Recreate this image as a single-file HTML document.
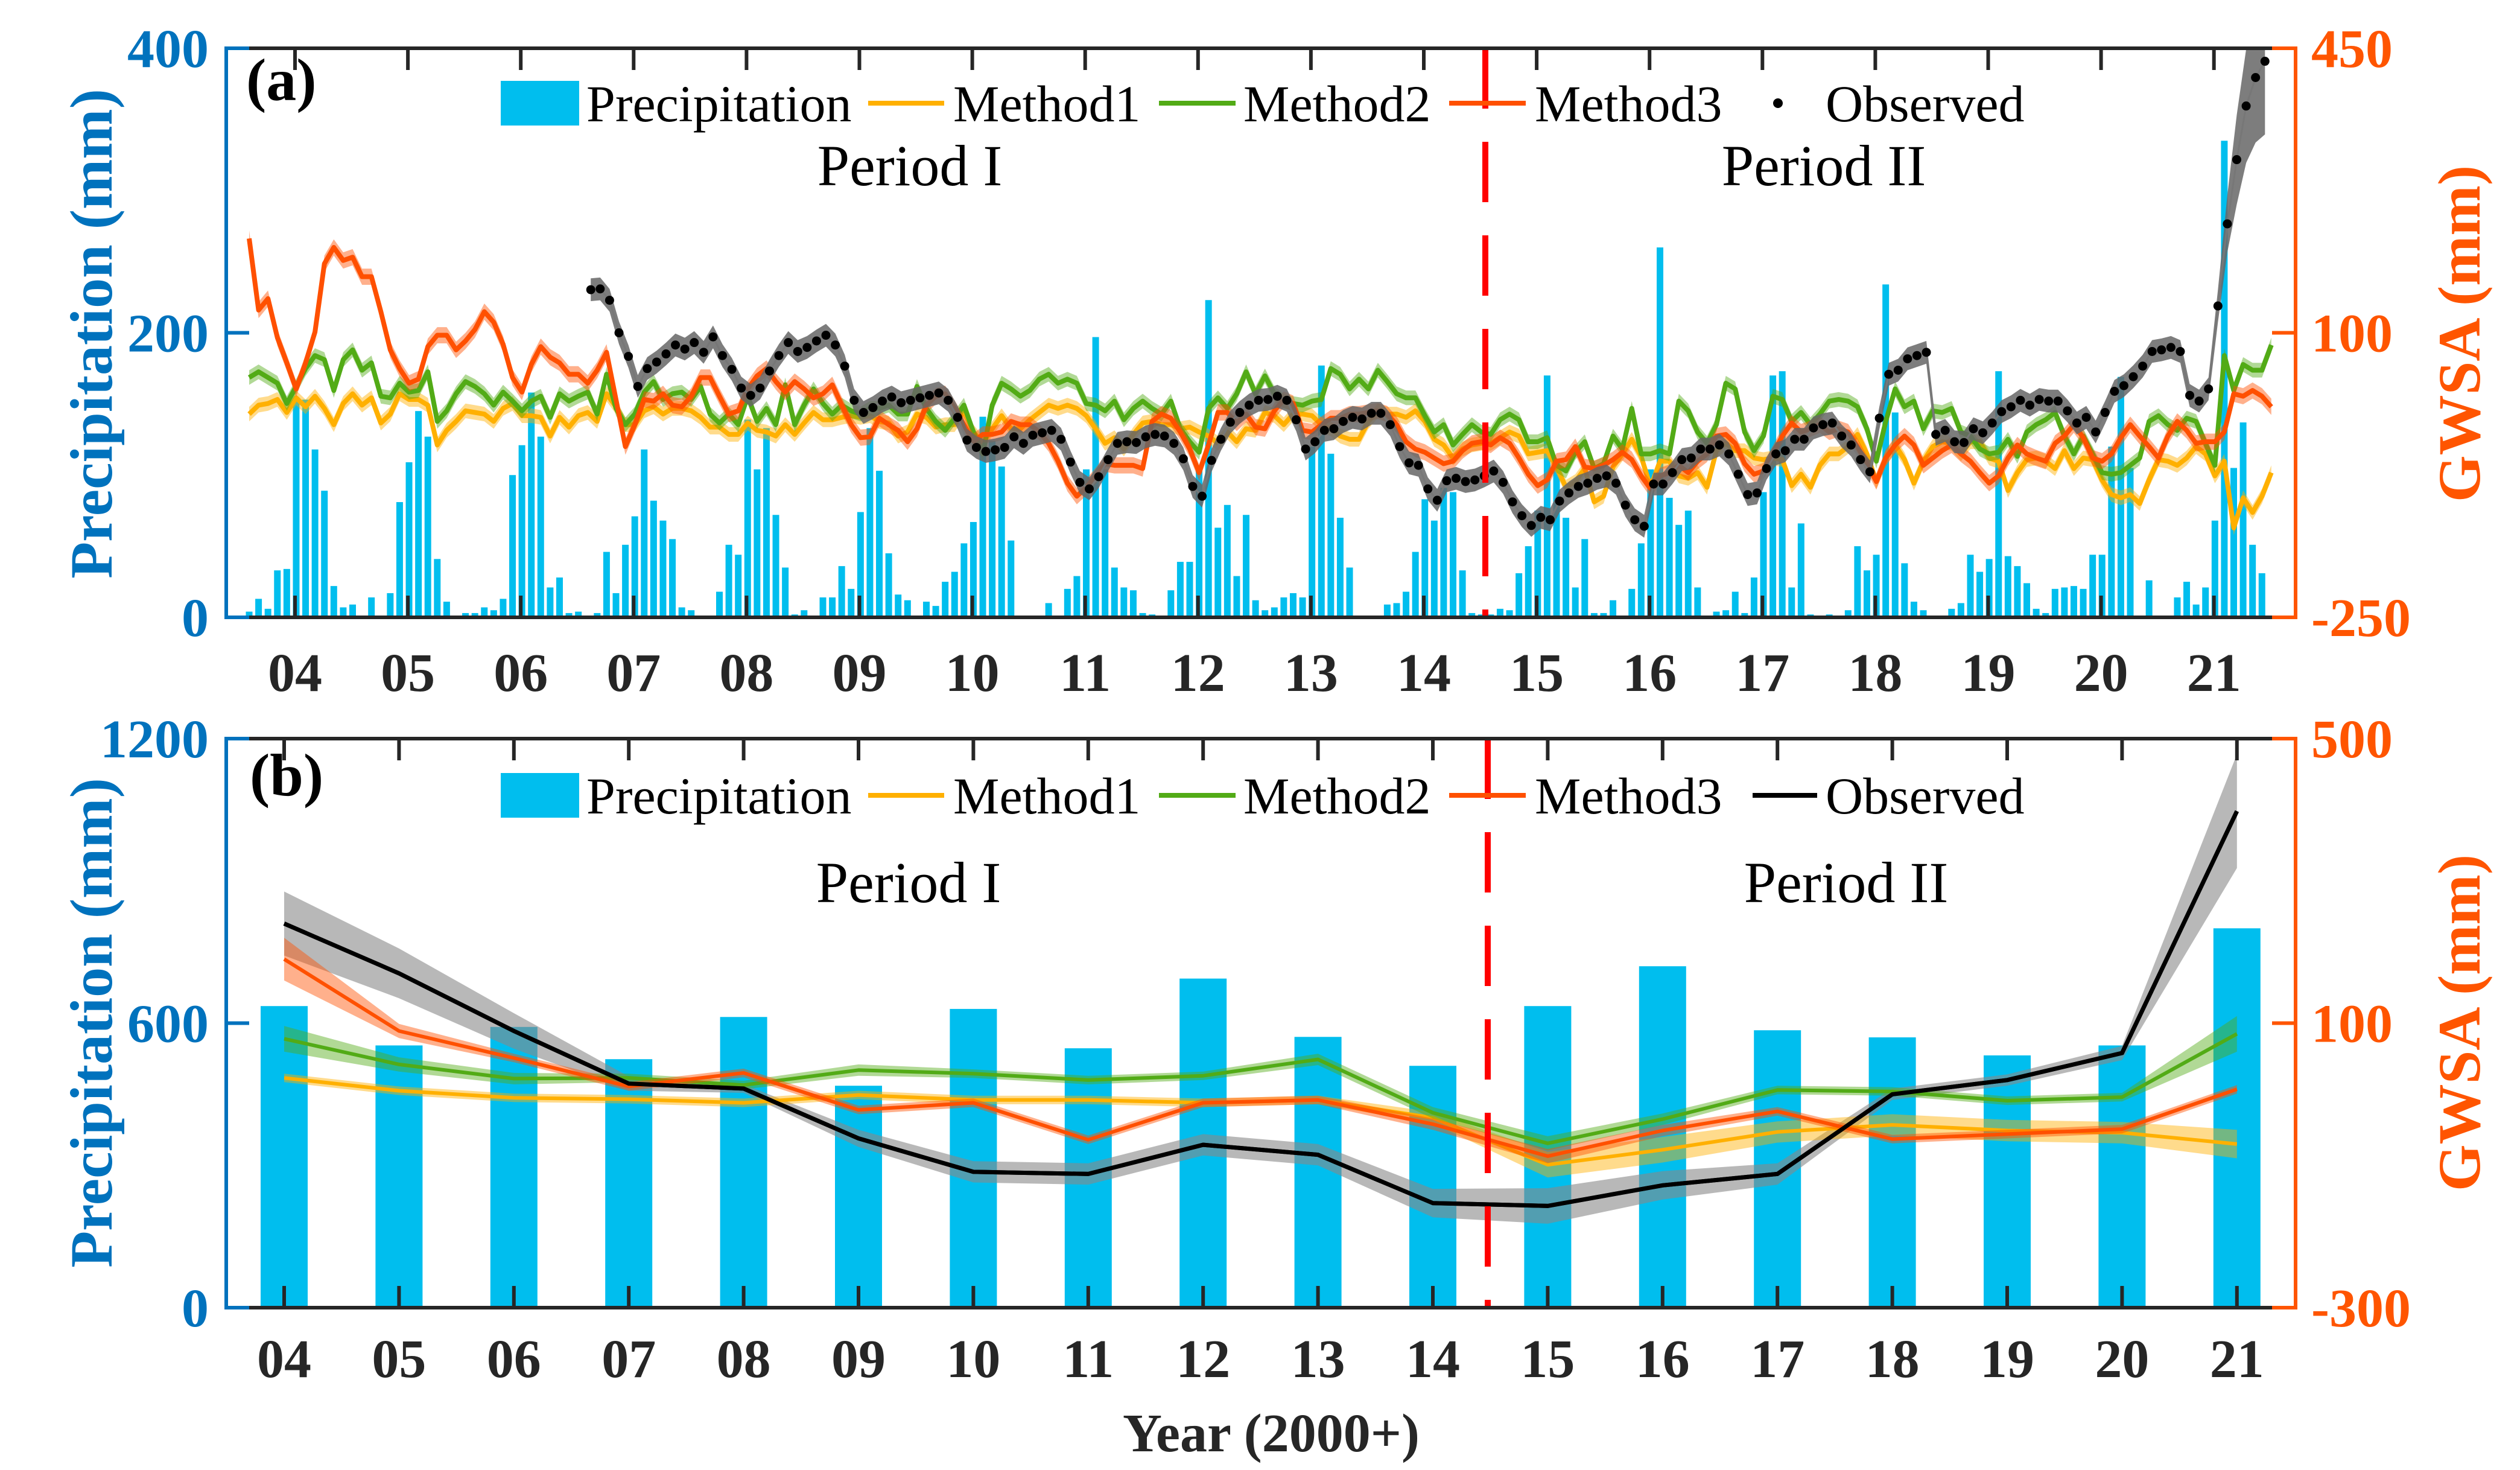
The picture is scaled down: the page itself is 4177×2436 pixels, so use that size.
<!DOCTYPE html>
<html><head><meta charset="utf-8"><style>
html,body{margin:0;padding:0;background:#fff;}
svg{display:block;font-family:"Liberation Serif","DejaVu Serif",serif;}
</style></head><body>
<svg id="chart" width="4177" height="2436" viewBox="0 0 4177 2436" xmlns="http://www.w3.org/2000/svg">
<defs>
<clipPath id="clipA"><rect x="375" y="80" width="3431" height="943"/></clipPath>
<clipPath id="clipB"><rect x="375" y="1224" width="3428" height="943"/></clipPath>
</defs>
<rect x="0" y="0" width="4177" height="2436" fill="#fff"/>
<g id="panelA"></g>
<g id="panelB"></g>
</svg>
<script>
// ---------- Panel (a) monthly data (Jan 2004 .. Dec 2021) ----------
const precipA = [
4,13,6,33,34,153,153,118,89,22,7,9,
0,14,0,17,81,109,145,127,41,11,1,3,
3,7,5,13,100,121,158,127,21,28,3,4,
0,3,46,17,51,71,118,82,68,55,7,5,
0,0,18,51,44,139,104,133,72,35,2,5,
0,14,14,36,20,74,133,103,45,16,12,0,
11,8,25,32,52,67,141,124,106,54,0,0,
0,10,0,20,29,104,197,104,35,21,19,3,
2,0,19,39,39,103,223,63,79,29,72,12,
5,7,14,17,14,120,177,115,70,35,0,0,
0,9,10,18,46,83,68,91,88,33,3,2,
2,6,5,31,50,75,170,110,70,21,55,3,
3,12,0,20,52,104,260,84,65,75,21,0,
4,5,18,3,28,88,170,173,21,66,2,0,
2,0,5,50,33,44,234,144,38,11,5,0,
0,6,10,44,32,41,173,43,36,24,6,3,
20,21,22,20,44,44,120,169,105,1,26,0,
0,14,25,9,21,68,335,105,137,51,31,1];
const method1A = [
0,11,13,18,2,20,9,22,7,-13,13,25,
11,20,-11,0,25,18,18,11,-38,-20,-9,4,
2,0,-9,7,13,-2,-2,-4,-27,-4,-16,-2,
2,-9,25,9,-13,-13,4,9,0,7,7,4,
-4,-16,-16,-25,-25,-11,-20,-22,-27,-13,-25,-11,
2,-7,-7,-4,-2,-4,-2,-9,-11,-27,-22,0,
-4,-16,-13,-13,4,-22,-36,-18,-2,-18,-18,-7,
2,11,7,11,7,-2,-18,-36,-29,-43,-25,-11,
-9,-13,-13,-18,-16,-22,-27,-36,-22,-34,-18,-20,
2,-2,-13,0,0,-2,-13,-18,-27,-31,-31,-9,
4,0,0,-4,4,-9,-31,-38,-54,-43,-38,-36,
-36,-29,-22,-27,-49,-47,-45,-65,-90,-83,-67,-108,
-101,-65,-49,-31,-52,-90,-58,-58,-76,-79,-72,-90,
-45,-36,-45,-45,-54,-56,-54,-56,-88,-74,-90,-63,
-49,-49,-40,-25,-49,-83,-54,-38,-56,-85,-58,-40,
-34,-36,-49,-34,-34,-54,-58,-94,-72,-56,-54,-58,
-67,-45,-67,-54,-56,-81,-99,-103,-99,-110,-81,-56,
-58,-63,-54,-40,-49,-76,-58,-140,-103,-121,-101,-72];
const method2A = [
45,52,45,38,13,34,56,72,67,29,67,79,
54,63,22,20,38,27,29,52,-9,4,25,40,
34,25,11,27,16,4,16,22,-4,25,16,22,
27,0,49,7,-13,0,27,40,18,25,27,18,
34,0,-11,0,-13,22,-9,7,-13,36,-13,11,
31,13,0,11,4,0,7,7,11,0,0,34,
7,-9,-20,-5,11,-22,-49,11,38,31,22,29,
43,49,38,43,38,13,11,4,16,-7,7,16,
7,0,16,-18,-34,-47,7,20,7,25,52,25,
47,25,16,13,11,16,18,56,49,31,43,31,
54,40,25,20,20,-2,-22,-13,-38,-25,-13,-22,
-25,-7,0,-7,-34,-34,-29,-63,-70,-47,-34,-67,
-61,-27,-43,7,-49,-49,-45,-49,16,4,-22,-36,
-13,38,31,-22,-45,-27,22,18,-9,2,-13,0,
16,18,16,9,-18,-58,-9,31,9,16,-18,4,
2,7,-22,-27,-43,-49,-47,-31,-52,-22,-13,-7,
2,-27,-49,-27,-49,-72,-74,-72,-63,-54,-9,-2,
-13,-20,-5,-9,-36,-63,72,29,61,54,54,85];
const method3A = [
216,128,142,94,63,31,63,101,185,205,189,193,
169,169,126,79,56,38,43,83,97,97,79,90,
104,126,113,86,45,27,61,83,70,63,49,49,
38,54,76,18,-40,-13,18,16,25,11,9,22,
45,45,22,0,4,31,47,56,40,27,40,31,
20,25,36,11,-13,-29,-28,-5,-13,-20,-34,-18,
11,22,25,7,-13,-34,-25,-25,-22,-9,-13,-13,
-22,-36,-58,-85,-101,-90,-76,-61,-63,-63,-63,-67,
-9,0,-5,-22,-43,-72,-38,2,2,-11,0,-16,
-18,4,18,13,-20,-22,-13,-5,-5,0,0,2,
4,0,-13,-34,-43,-47,-54,-61,-58,-45,-36,-34,
-38,-29,-36,-54,-74,-88,-81,-58,-56,-40,-65,-67,
-63,-56,-47,-56,-76,-92,-76,-72,-63,-72,-58,-49,
-27,-25,-36,-61,-74,-70,-49,-27,-11,-22,-18,-13,
-22,-18,-22,-40,-61,-83,-54,-38,-27,-38,-63,-54,
-45,-38,-49,-58,-72,-85,-76,-54,-38,-49,-54,-58,
-36,-27,-13,-29,-54,-58,-49,-29,-13,-27,-40,-54,
-27,-9,-20,-36,-34,-34,-22,25,22,29,22,9];
const obsStartA = 36;
const observedA = [
153,154,140,100,71,34,56,64,74,85,80,88,
76,95,72,55,32,23,32,53,72,88,77,82,
90,97,85,59,17,2,8,16,21,14,17,20,
23,26,17,-4,-32,-41,-46,-44,-41,-28,-36,-26,
-23,-20,-31,-59,-84,-92,-77,-56,-36,-34,-35,-28,
-25,-27,-36,-55,-89,-101,-57,-31,-10,2,11,17,
18,22,17,-7,-43,-34,-20,-18,-9,-4,-6,1,
1,-13,-40,-60,-63,-92,-106,-82,-79,-83,-81,-76,
-70,-84,-108,-125,-137,-127,-130,-107,-97,-89,-85,-79,
-76,-85,-112,-130,-138,-86,-86,-72,-56,-54,-43,-43,
-38,-49,-74,-99,-97,-67,-49,-45,-31,-31,-17,-13,
-11,-27,-38,-56,-71,-5,49,54,68,72,76,-25,
-20,-34,-35,-18,-23,-11,3,9,17,11,18,16,
16,4,-11,-4,-22,2,28,35,46,59,77,79,
82,77,23,16,31,133,234,313,379,414,434];
const observedErrTailA = [20,35,55,70,80,90];
const yearLabels = ['04','05','06','07','08','09','10','11','12','13','14','15','16','17','18','19','20','21'];
const leftTicksA = [0,200,400];
const rightTicksA = [-250,100,450];

// ---------- Panel (b) annual data ----------
const precipB = [636,553,592,524,613,468,630,547,694,571,510,636,720,585,570,532,553,800];
const method1B = [23,5,-5,-7,-12,-1,-8,-8,-12,-8,-33,-99,-78,-53,-43,-51,-54,-70];
const method2B = [78,42,22,23,13,34,29,20,26,49,-26,-69,-35,6,4,-9,-4,85];
const method3B = [190,89,51,11,30,-22,-12,-64,-12,-8,-42,-87,-51,-24,-63,-56,-49,7];
const observedB = [240,170,89,15,8,-62,-109,-112,-71,-85,-153,-157,-128,-112,0,20,58,398];
const observedErrB = [45,35,25,10,6,12,15,15,15,15,20,25,20,15,8,8,10,80];
const method3ErrB = [30,10,6,6,6,6,6,6,6,6,8,10,8,6,6,6,6,6];
const method1ErrB = [6,6,6,6,6,6,6,6,6,6,8,18,18,15,15,15,15,20];
const method2ErrB = [18,10,8,6,6,8,6,6,6,8,8,10,8,6,6,6,6,25];
const leftTicksB = [0,600,1200];
const rightTicksB = [-300,100,500];

const NS='http://www.w3.org/2000/svg';
const BLUE='#0072BD', ORANGE='#FF5500', DARK='#262626', BARC='#00BEEE';
const C1='#FFB000', C2='#52AB16', C3='#FF5000';
function mk(parent, tag, attrs, text){
  const e=document.createElementNS(NS,tag);
  for(const k in attrs) e.setAttribute(k,attrs[k]);
  if(text!==undefined) e.textContent=text;
  parent.appendChild(e); return e;
}
// axis functions
const xA = m => 413 + m*15.59;
const yAp = p => 1023 - p/400*943;
const yAg = g => 1023 - (g+250)/700*943;
const xB = i => 471 + i*190.4;
const yBp = p => 2167 - p/1200*943;
const yBg = g => 2167 - (g+300)/800*943;

function linePath(xs, ys){ return xs.map((x,i)=>(i?'L':'M')+x.toFixed(1)+' '+ys[i].toFixed(1)).join(''); }
function bandPath(xs, lo, hi){
  let d=xs.map((x,i)=>(i?'L':'M')+x.toFixed(1)+' '+hi[i].toFixed(1)).join('');
  for(let i=xs.length-1;i>=0;i--) d+='L'+xs[i].toFixed(1)+' '+lo[i].toFixed(1);
  return d+'Z';
}

// ================= PANEL A =================
const A=document.getElementById('panelA');
const gA=mk(A,'g',{'clip-path':'url(#clipA)'});


precipA.forEach((p,m)=>{
  const r=mk(gA,'rect',{x:xA(m)-5.5,y:yAp(p),width:11,height:Math.max(0,1023-yAp(p)),fill:BARC});
  
  
});
function seriesA(vals, color, err, name){
  const xs=vals.map((v,m)=>xA(m));
  const b=mk(gA,'path',{d:bandPath(xs,vals.map(v=>yAg(v-err)),vals.map(v=>yAg(v+err))),fill:color,'fill-opacity':0.45,stroke:'none'});
  
  
  const l=mk(gA,'path',{d:linePath(xs,vals.map(yAg)),fill:'none',stroke:color,'stroke-width':8,'stroke-linejoin':'round'});
  
  
}
seriesA(method1A,C1,9,'method1-a');
seriesA(method2A,C2,9,'method2-a');
seriesA(method3A,C3,10,'method3-a');
// observed
(function(){
  const xs=observedA.map((v,i)=>xA(i+obsStartA)+5);
  const n=observedA.length;
  const err=observedA.map((v,i)=>{const t=i-(n-observedErrTailA.length);return t>=0?observedErrTailA[t]:14;});
  const b=mk(gA,'path',{d:bandPath(xs,observedA.map((v,i)=>yAg(v-err[i])),observedA.map((v,i)=>yAg(v+err[i]))),fill:'#666','fill-opacity':0.85,stroke:'none'});
  
  
  const l=mk(gA,'path',{d:linePath(xs,observedA.map(yAg)),fill:'none',stroke:'#777','stroke-width':3});
  
  
  observedA.forEach((v,i)=>{
    const c=mk(gA,'circle',{cx:xs[i],cy:yAg(v),r:7.5,fill:'#000'});
    
    
  });
})();
// dashed separator
const dA=mk(A,'line',{x1:2462,y1:80,x2:2462,y2:1023,stroke:'#FF0000','stroke-width':10,'stroke-dasharray':'100 55'});



function axesFrame(P, top, bot, ticksX, yLeftTick, yRightTick){
  mk(P,'line',{x1:413,y1:top,x2:3766,y2:top,stroke:DARK,'stroke-width':6});
  mk(P,'line',{x1:413,y1:bot,x2:3766,y2:bot,stroke:DARK,'stroke-width':6});
  mk(P,'polyline',{points:`413,${top} 375,${top} 375,${bot} 413,${bot}`,fill:'none',stroke:BLUE,'stroke-width':6});
  mk(P,'polyline',{points:`3766,${top} 3805,${top} 3805,${bot} 3766,${bot}`,fill:'none',stroke:ORANGE,'stroke-width':6});
  ticksX.forEach(x=>{
    mk(P,'line',{x1:x,y1:top,x2:x,y2:top+36,stroke:DARK,'stroke-width':6});
    mk(P,'line',{x1:x,y1:bot,x2:x,y2:bot-36,stroke:DARK,'stroke-width':6});
  });
  mk(P,'line',{x1:375,y1:yLeftTick,x2:413,y2:yLeftTick,stroke:BLUE,'stroke-width':6});
  mk(P,'line',{x1:3805,y1:yRightTick,x2:3766,y2:yRightTick,stroke:ORANGE,'stroke-width':6});
}
axesFrame(A,80,1023,yearLabels.map((s,k)=>489+k*187.1),yAp(200),yAg(100));
yearLabels.forEach((s,k)=>{
  const t=mk(A,'text',{x:489+k*187.1,y:1145,'font-size':90,'font-weight':'bold',fill:DARK,'text-anchor':'middle'},s);
  
  
});
leftTicksA.forEach(v=>{
  const t=mk(A,'text',{x:346,y:yAp(v)+31,'font-size':90,'font-weight':'bold',fill:BLUE,'text-anchor':'end'},String(v));
  
  
});
rightTicksA.forEach(v=>{
  const t=mk(A,'text',{x:3831,y:yAg(v)+31,'font-size':90,'font-weight':'bold',fill:ORANGE,'text-anchor':'start'},String(v));
  
  
});

// ================= PANEL B =================
const B=document.getElementById('panelB');
const gB=mk(B,'g',{'clip-path':'url(#clipB)'});


precipB.forEach((p,i)=>{
  const r=mk(gB,'rect',{x:xB(i)-39,y:yBp(p),width:78,height:2167-yBp(p),fill:BARC});
  
  
});
function seriesB(vals, errs, color, bandColor, op, width, name){
  const xs=vals.map((v,i)=>xB(i));
  const b=mk(gB,'path',{d:bandPath(xs,vals.map((v,i)=>yBg(v-errs[i])),vals.map((v,i)=>yBg(v+errs[i]))),fill:bandColor,'fill-opacity':op,stroke:'none'});
  
  
  const l=mk(gB,'path',{d:linePath(xs,vals.map(yBg)),fill:'none',stroke:color,'stroke-width':width,'stroke-linejoin':'round'});
  
  
}
seriesB(observedB,observedErrB,'#000','#888',0.6,7,'observed-b');
seriesB(method1B,method1ErrB,C1,C1,0.45,6,'method1-b');
seriesB(method2B,method2ErrB,C2,C2,0.45,6,'method2-b');
seriesB(method3B,method3ErrB,C3,C3,0.45,6,'method3-b');
// redraw observed line on top
(function(){
  const l=mk(gB,'path',{d:linePath(observedB.map((v,i)=>xB(i)),observedB.map(yBg)),fill:'none',stroke:'#000','stroke-width':7});
  
  
})();
const dB=mk(B,'line',{x1:2466,y1:1224,x2:2466,y2:2167,stroke:'#FF0000','stroke-width':10,'stroke-dasharray':'100 55'});


axesFrame(B,1224,2167,yearLabels.map((s,i)=>xB(i)),yBp(600),yBg(100));
yearLabels.forEach((s,i)=>{
  const t=mk(B,'text',{x:xB(i),y:2282,'font-size':90,'font-weight':'bold',fill:DARK,'text-anchor':'middle'},s);
  
  
});
leftTicksB.forEach(v=>{
  const t=mk(B,'text',{x:346,y:yBp(v)+31,'font-size':90,'font-weight':'bold',fill:BLUE,'text-anchor':'end'},String(v));
  
  
});
rightTicksB.forEach(v=>{
  const t=mk(B,'text',{x:3831,y:yBg(v)+31,'font-size':90,'font-weight':'bold',fill:ORANGE,'text-anchor':'start'},String(v));
  
  
});

// ================= Legends, labels =================
function legend(P, cy, lineObs){
  const g=mk(P,'g',{});
  
  
  mk(g,'rect',{x:830,y:cy-37,width:130,height:74,fill:BARC});
  mk(g,'text',{x:972,y:cy+30,'font-size':86},'Precipitation');
  mk(g,'line',{x1:1439,y1:cy,x2:1565,y2:cy,stroke:C1,'stroke-width':8});
  mk(g,'text',{x:1580,y:cy+30,'font-size':86},'Method1');
  mk(g,'line',{x1:1921,y1:cy,x2:2048,y2:cy,stroke:C2,'stroke-width':8});
  mk(g,'text',{x:2061,y:cy+30,'font-size':86},'Method2');
  mk(g,'line',{x1:2402,y1:cy,x2:2529,y2:cy,stroke:C3,'stroke-width':8});
  mk(g,'text',{x:2544,y:cy+30,'font-size':86},'Method3');
  if(lineObs){ mk(g,'line',{x1:2905,y1:cy,x2:3012,y2:cy,stroke:'#000','stroke-width':8}); }
  else { mk(g,'circle',{cx:2947,cy:cy,r:8,fill:'#000'}); }
  mk(g,'text',{x:3026,y:cy+30,'font-size':86},'Observed');
}
legend(A,171,false);
legend(B,1318,true);
function txt(P,attrs,s,name){ const t=mk(P,'text',attrs,s);   return t; }
txt(A,{x:408,y:166,'font-size':100,'font-weight':'bold'},'(a)','panel-label-a');
txt(B,{x:414,y:1318,'font-size':100,'font-weight':'bold'},'(b)','panel-label-b');
txt(A,{x:1508,y:307,'font-size':96,'text-anchor':'middle'},'Period I','period-1-label-a');
txt(A,{x:3023,y:307,'font-size':96,'text-anchor':'middle'},'Period II','period-2-label-a');
txt(B,{x:1506,y:1495,'font-size':96,'text-anchor':'middle'},'Period I','period-1-label-b');
txt(B,{x:3060,y:1495,'font-size':96,'text-anchor':'middle'},'Period II','period-2-label-b');
txt(A,{x:0,y:0,'font-size':100,'font-weight':'bold',fill:BLUE,'text-anchor':'middle',transform:'translate(185,553) rotate(-90)'},'Precipitation (mm)','y-axis-title-left-a');
txt(B,{x:0,y:0,'font-size':100,'font-weight':'bold',fill:BLUE,'text-anchor':'middle',transform:'translate(185,1695) rotate(-90)'},'Precipitation (mm)','y-axis-title-left-b');
txt(A,{x:0,y:0,'font-size':100,'font-weight':'bold',fill:ORANGE,'text-anchor':'middle',transform:'translate(4110,553) rotate(-90)'},'GWSA (mm)','y-axis-title-right-a');
txt(B,{x:0,y:0,'font-size':100,'font-weight':'bold',fill:ORANGE,'text-anchor':'middle',transform:'translate(4110,1695) rotate(-90)'},'GWSA (mm)','y-axis-title-right-b');
txt(B,{x:2107,y:2405,'font-size':90,'font-weight':'bold',fill:DARK,'text-anchor':'middle'},'Year (2000+)','x-axis-title');
</script>
</body></html>
